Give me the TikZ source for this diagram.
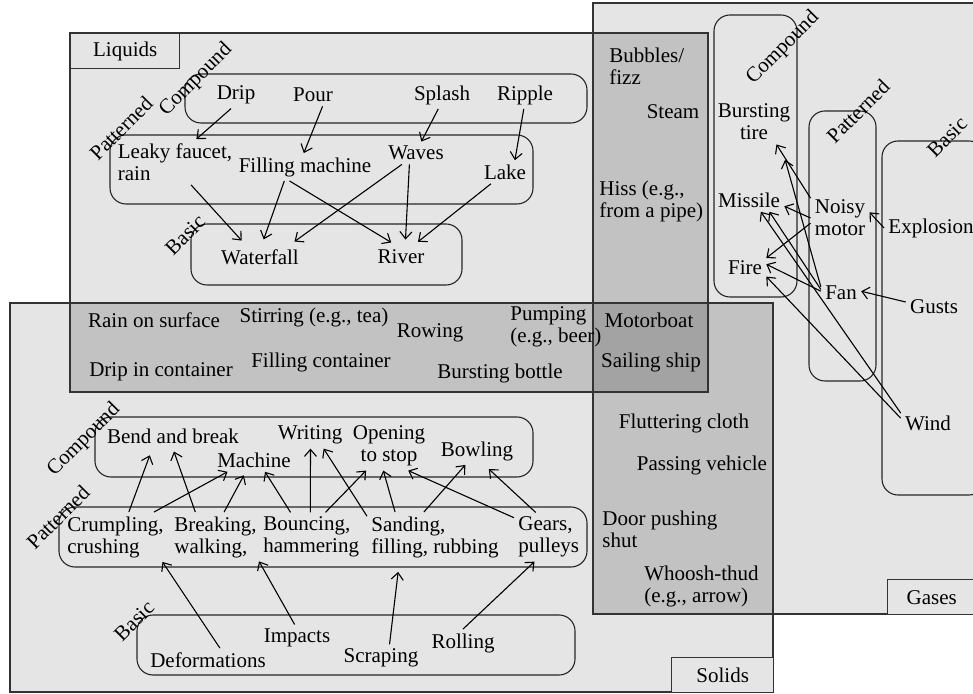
\documentclass[tikz,border=0pt]{standalone}
\usepackage{fontspec}
\setmainfont{Liberation Serif}
\usetikzlibrary{arrows.meta}
\definecolor{lightg}{gray}{0.9}
\definecolor{midg}{gray}{0.76}
\definecolor{darkg}{gray}{0.64}
\definecolor{edge}{gray}{0.2}
\begin{document}
\begin{tikzpicture}[x=0.5pt,y=-0.5pt,>={Straight Barb[length=3.5pt,width=6pt]},
  every node/.style={font=\fontsize{10.5}{11}\selectfont,inner sep=2pt},
  region/.style={draw=edge,line width=0.7pt},
  grp/.style={draw=black!85,rounded corners=8pt,line width=0.55pt},
  cat/.style={rotate=45,inner sep=0pt},
  tag/.style={draw=edge,fill=lightg,line width=0.7pt,anchor=north west,minimum height=17.5pt},
  link/.style={->,line width=0.55pt}]
\useasboundingbox (0,0) rectangle (973,694);
\fill[lightg] (70,33) rectangle (708,392);
\fill[lightg] (593,3) rectangle (975,614);
\fill[lightg] (10,303) rectangle (773,692);
\fill[midg] (70,303) rectangle (708,392);
\fill[midg] (593,33) rectangle (708,392);
\fill[midg] (593,303) rectangle (773,614);
\fill[darkg] (593,303) rectangle (708,392);
\draw[region] (70,33) rectangle (708,392);
\draw[region] (593,3) rectangle (975,614);
\draw[region] (10,303) rectangle (773,692);
\node[tag,minimum width=54.5pt] (liqtag) at (70,33) {Liquids};
\node[tag,minimum width=44pt] (gastag) at (887,579) {Gases};
\node[tag,minimum width=51pt] (soltag) at (671,657) {Solids};

\draw[grp] (185,74) rectangle (587,123);
\draw[grp] (110,135) rectangle (533,204);
\draw[grp] (191,224) rectangle (462,285);
\draw[grp] (714,15) rectangle (797,297);
\draw[grp] (809,111) rectangle (876,381);
\draw[grp] (882,141) rectangle (985,495);
\draw[grp] (95,417) rectangle (533,477);
\draw[grp] (59,507) rectangle (587,567);
\draw[grp] (137,615) rectangle (575,675);

\node[cat] (liqcomp) at (196,80) {Compound};
\node[cat] (liqpatt) at (121,128) {Patterned};
\node[cat] (liqbasic) at (185,235) {Basic};
\node[cat] (gascomp) at (783,48) {Compound};
\node[cat] (gaspatt) at (858,111) {Patterned};
\node[cat] (gasbasic) at (947,137) {Basic};
\node[cat] (solcomp) at (84,440) {Compound};
\node[cat] (solpatt) at (58,517) {Patterned};
\node[cat] (solbasic) at (134,621) {Basic};

\node (drip) at (236,95) {Drip};
\node (pour) at (313,95) {Pour};
\node (splash) at (442,95) {Splash};
\node (ripple) at (525,95) {Ripple};
\node[align=left] (leaky) at (175,162) {Leaky faucet,\\rain};
\node (fillm) at (305,167) {Filling machine};
\node (waves) at (416,153) {Waves};
\node (lake) at (505,172) {Lake};
\node (waterfall) at (260,257) {Waterfall};
\node (river) at (401,257) {River};

\node (rainsurf) at (154,320) {Rain on surface};
\node (dripcont) at (161,372) {Drip in container};
\node (stirring) at (314,317) {Stirring (e.g., tea)};
\node (fillcont) at (321,362) {Filling container};
\node (rowing) at (430,333) {Rowing};
\node[anchor=west,align=left] (pumping) at (506,327) {Pumping\\(e.g., beer)};
\node (burstbottle) at (500,373) {Bursting bottle};
\node (motorboat) at (649,320) {Motorboat};
\node (sailing) at (651,362) {Sailing ship};
\node[anchor=west,align=left] (bubbles) at (605,66) {Bubbles/\\fizz};
\node (steam) at (673,112) {Steam};
\node[anchor=west,align=left] (hiss) at (595,201) {Hiss (e.g.,\\from a pipe)};
\node (flutter) at (684,423) {Fluttering cloth};
\node (passing) at (702,465) {Passing vehicle};
\node[anchor=west,align=left] (door) at (598,529) {Door pushing\\shut};
\node[anchor=west,align=left] (whoosh) at (640,586) {Whoosh-thud\\(e.g., arrow)};

\node[align=center] (tire) at (754,122) {Bursting\\tire};
\node (missile) at (749,200) {Missile};
\node (fire) at (745,268) {Fire};
\node[align=center] (motor) at (840,218) {Noisy\\motor};
\node (fan) at (841,293) {Fan};
\node (explosion) at (931,228) {Explosion};
\node (gusts) at (934,307) {Gusts};
\node (wind) at (928,423) {Wind};

\node (bend) at (173,436) {Bend and break};
\node (machine) at (254,460) {Machine};
\node (writing) at (310,435) {Writing};
\node[align=center] (opening) at (389,446) {Opening\\to stop};
\node (bowling) at (477,451) {Bowling};
\node[anchor=west,align=left] (crumpling) at (63,537) {Crumpling,\\crushing};
\node[anchor=west,align=left] (breaking) at (170,537) {Breaking,\\walking,};
\node[anchor=west,align=left] (bouncing) at (259,537) {Bouncing,\\hammering};
\node[anchor=west,align=left] (sanding) at (367,537) {Sanding,\\filling, rubbing};
\node[anchor=west,align=left] (gears) at (514,537) {Gears,\\pulleys};
\node (deform) at (208,660) {Deformations};
\node (impacts) at (297,638) {Impacts};
\node (scraping) at (381,658) {Scraping};
\node (rolling) at (463,643) {Rolling};

\draw[link] (drip.-110) -- (leaky.47);
\draw[link] (pour.-50) -- (fillm.95);
\draw[link] (splash.-105) -- (waves.65);
\draw[link] (ripple.-95) -- (lake.50);
\draw[link,shorten >=3pt] (leaky.-55) -- (waterfall.140);
\draw[link,shorten >=3pt] (fillm.-146) -- (waterfall.82);
\draw[link,shorten >=3pt] (fillm.-138) -- (river.112);
\draw[link,shorten >=3pt] (waves.-141) -- (waterfall.22);
\draw[link,shorten >=3pt] (waves.-120) -- (river.70);
\draw[link,shorten >=3pt] (lake.-140) -- (river.43);

\draw[link] (motor.146) -- (tire.-45);
\draw[link,shorten >=8pt] (fan.163) -- (tire.-40);
\draw[link] (motor.180) -- (missile.-10);
\draw[link] (motor.190) -- (fire.25);
\draw[link] (fan.170) -- (missile.-30);
\draw[link] (fan.175) -- (fire.10);
\draw[link] (wind.160) -- (missile.-45);
\draw[link] (wind.170) -- (fire.-22);
\draw[link] (explosion.180) -- (motor.11);
\draw[link] (gusts.170) -- (fan.5);

\draw[link,shorten >=4pt] (crumpling.62) -- (bend.-150);
\draw[link] (crumpling.33) -- (machine.-156);
\draw[link,shorten >=2pt] (breaking.129) -- (bend.-92);
\draw[link,shorten >=2pt] (breaking.71) -- (machine.-125);
\draw[link] (bouncing.130) -- (machine.-47);
\draw[link] (bouncing.92) -- (writing.-88);
\draw[link] (bouncing.60) -- (opening.-133);
\draw[link] (sanding.163) -- (writing.-45);
\draw[link] (sanding.148) -- (opening.-103);
\draw[link] (sanding.114) -- (bowling.-130);
\draw[link] (gears.151) -- (opening.-52);
\draw[link,shorten >=3pt] (gears.118) -- (bowling.-62);
\draw[link] (deform.45) -- (crumpling.-28);
\draw[link] (impacts.100) -- (bouncing.-155);
\draw[link,shorten >=5pt] (scraping.58) -- (sanding.-145);
\draw[link] (rolling.90) -- (gears.-120);
\end{tikzpicture}
\end{document}
